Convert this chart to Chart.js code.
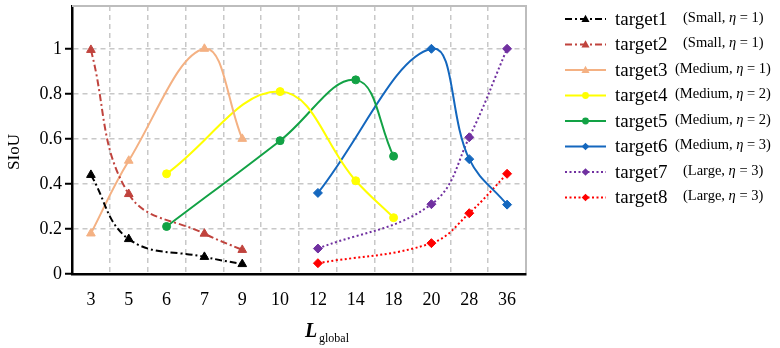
<!DOCTYPE html>
<html>
<head>
<meta charset="utf-8">
<script src="https://cdn.jsdelivr.net/npm/chart.js@4/dist/chart.umd.min.js"></script>
<style>
html,body{margin:0;padding:0;background:#fff;}
#wrap{width:780px;height:348px;position:relative;}
</style>
</head>
<body>
<div id="wrap"><canvas id="c" width="780" height="348"></canvas></div>
<script>
// ---- data ----
const categories = ['3','5','6','7','9','10','12','14','18','20','28','36'];
const yTicks = [0, 0.2, 0.4, 0.6, 0.8, 1];
const seriesNames = ['target1','target2','target3','target4','target5','target6','target7','target8'];
const sizes = ['Small','Small','Medium','Medium','Medium','Medium','Large','Large'];
const etas = [1, 1, 1, 2, 2, 3, 3, 3];
const target1 = [0.44, 0.155, null, 0.076, 0.044, null, null, null, null, null, null, null];
const target2 = [0.995, 0.355, null, 0.179, 0.107, null, null, null, null, null, null, null];
const target3 = [0.18, 0.503, null, 1.0, 0.60, null, null, null, null, null, null, null];
const target4 = [null, null, 0.445, null, null, 0.81, null, 0.414, 0.25, null, null, null];
const target5 = [null, null, 0.211, null, null, 0.592, null, 0.862, 0.523, null, null, null];
const target6 = [null, null, null, null, null, null, 0.36, null, null, 1.0, 0.51, 0.308];
const target7 = [null, null, null, null, null, null, 0.113, null, null, 0.31, 0.607, 1.0];
const target8 = [null, null, null, null, null, null, 0.048, null, null, 0.137, 0.27, 0.445];
const seriesValues = [target1, target2, target3, target4, target5, target6, target7, target8];

// ---- styles ----
const colors = ['#000000','#C0433D','#F4B183','#FFFF00','#12A245','#1467BE','#7030A0','#FF0000'];
const dashes = [[7,3,2,3],[7,3,2,3],[],[],[],[],[2,2.5],[2,2.5]];
const markers = ['triangle','triangle','triangle','circle','circle','rectRot','rectRot','rectRot'];
const radii = [5,5,5,4,4,4.5,4.5,4.5];
const SERIF = '"Liberation Serif", "DejaVu Serif", serif';

const datasets = seriesValues.map((vals, i) => ({
  label: seriesNames[i],
  data: vals,
  borderColor: colors[i],
  backgroundColor: colors[i],
  pointBackgroundColor: colors[i],
  pointBorderColor: colors[i],
  borderWidth: 2,
  borderDash: dashes[i],
  pointStyle: markers[i],
  pointRadius: radii[i],
  pointBorderWidth: 1,
  tension: 0.4,
  spanGaps: true,
  fill: false
}));

function drawMarker(ctx, style, x, y, r, color) {
  ctx.save();
  ctx.fillStyle = color;
  ctx.beginPath();
  if (style === 'triangle') {
    ctx.moveTo(x, y - r);
    ctx.lineTo(x + r * 0.95, y + r * 0.7);
    ctx.lineTo(x - r * 0.95, y + r * 0.7);
    ctx.closePath();
  } else if (style === 'circle') {
    ctx.arc(x, y, r, 0, Math.PI * 2);
  } else {
    ctx.moveTo(x, y - r);
    ctx.lineTo(x + r, y);
    ctx.lineTo(x, y + r);
    ctx.lineTo(x - r, y);
    ctx.closePath();
  }
  ctx.fill();
  ctx.restore();
}

const decorPlugin = {
  id: 'decor',
  afterDraw(chart) {
    const {ctx, chartArea: a} = chart;
    // plot frame (top / right)
    ctx.save();
    ctx.strokeStyle = '#BDBDBD';
    ctx.lineWidth = 2;
    ctx.beginPath();
    ctx.moveTo(a.left, a.top);
    ctx.lineTo(a.right, a.top);
    ctx.lineTo(a.right, a.bottom - 1);
    ctx.stroke();
    ctx.restore();

    ctx.save();
    // y axis title
    ctx.fillStyle = '#000';
    ctx.font = '17px ' + SERIF;
    ctx.textAlign = 'center';
    ctx.textBaseline = 'middle';
    ctx.translate(15, 152);
    ctx.rotate(-Math.PI / 2);
    ctx.fillText('SIoU', 0, 0);
    ctx.restore();

    // x axis title
    ctx.save();
    ctx.fillStyle = '#000';
    ctx.textBaseline = 'alphabetic';
    ctx.textAlign = 'left';
    ctx.font = 'italic bold 20px ' + SERIF;
    ctx.fillText('L', 305, 337);
    ctx.font = '12px ' + SERIF;
    ctx.fillText('global', 319, 342);
    ctx.restore();

    // legend
    const rowY0 = 19, rowGap = 25.5;
    const tagX = {Small: 683, Medium: 675, Large: 683};
    chart.data.datasets.forEach((ds, i) => {
      const y = rowY0 + i * rowGap;
      ctx.save();
      ctx.strokeStyle = ds.borderColor;
      ctx.lineWidth = 2;
      ctx.setLineDash(ds.borderDash);
      ctx.beginPath();
      ctx.moveTo(565, y);
      ctx.lineTo(606, y);
      ctx.stroke();
      ctx.setLineDash([]);
      drawMarker(ctx, ds.pointStyle, 585.5, y, ds.pointRadius * 0.85, ds.borderColor);
      ctx.fillStyle = '#000';
      ctx.textBaseline = 'middle';
      ctx.textAlign = 'left';
      ctx.font = '19px ' + SERIF;
      ctx.fillText(ds.label, 615, y + 1);
      let x = tagX[sizes[i]];
      const ty = y - 1;
      ctx.font = '14.5px ' + SERIF;
      const p1 = '(' + sizes[i] + ', ';
      ctx.fillText(p1, x, ty);
      x += ctx.measureText(p1).width;
      ctx.font = 'italic 14.5px ' + SERIF;
      ctx.fillText('\u03B7', x, ty);
      x += ctx.measureText('\u03B7').width;
      ctx.font = '14.5px ' + SERIF;
      ctx.fillText(' = ' + etas[i] + ')', x, ty);
      ctx.restore();
    });
  }
};

new Chart(document.getElementById('c'), {
  type: 'line',
  data: { labels: categories, datasets: datasets },
  plugins: [decorPlugin],
  options: {
    responsive: false,
    animation: false,
    layout: { padding: { left: 0, right: 254, top: 5, bottom: 0 } },
    plugins: { legend: { display: false }, tooltip: { enabled: false }, title: { display: false } },
    scales: {
      x: {
        type: 'category',
        offset: true,
        grid: { offset: true, color: '#C8C8C8', lineWidth: 1.5, drawTicks: false },
        border: { color: '#000', width: 2.5, dash: [5, 4] },
        ticks: { color: '#000', font: { family: SERIF, size: 18 }, padding: 15, maxRotation: 0, autoSkip: false },
        afterFit(s) { s.height = 74; s.paddingLeft = 0; s.paddingRight = 0; }
      },
      y: {
        min: 0,
        max: 1.19,
        afterBuildTicks(s) { s.ticks = yTicks.map(v => ({ value: v })); },
        grid: { color: '#C8C8C8', lineWidth: 1.5, tickLength: 7, tickColor: '#000', tickWidth: 2, tickBorderDash: [] },
        border: { color: '#000', width: 2.5, dash: [5, 4] },
        ticks: { color: '#000', font: { family: SERIF, size: 18 }, padding: 3, callback: v => String(v) },
        afterFit(s) { s.width = 72; s.paddingTop = 0; s.paddingBottom = 0; }
      }
    }
  }
});
</script>
</body>
</html>
